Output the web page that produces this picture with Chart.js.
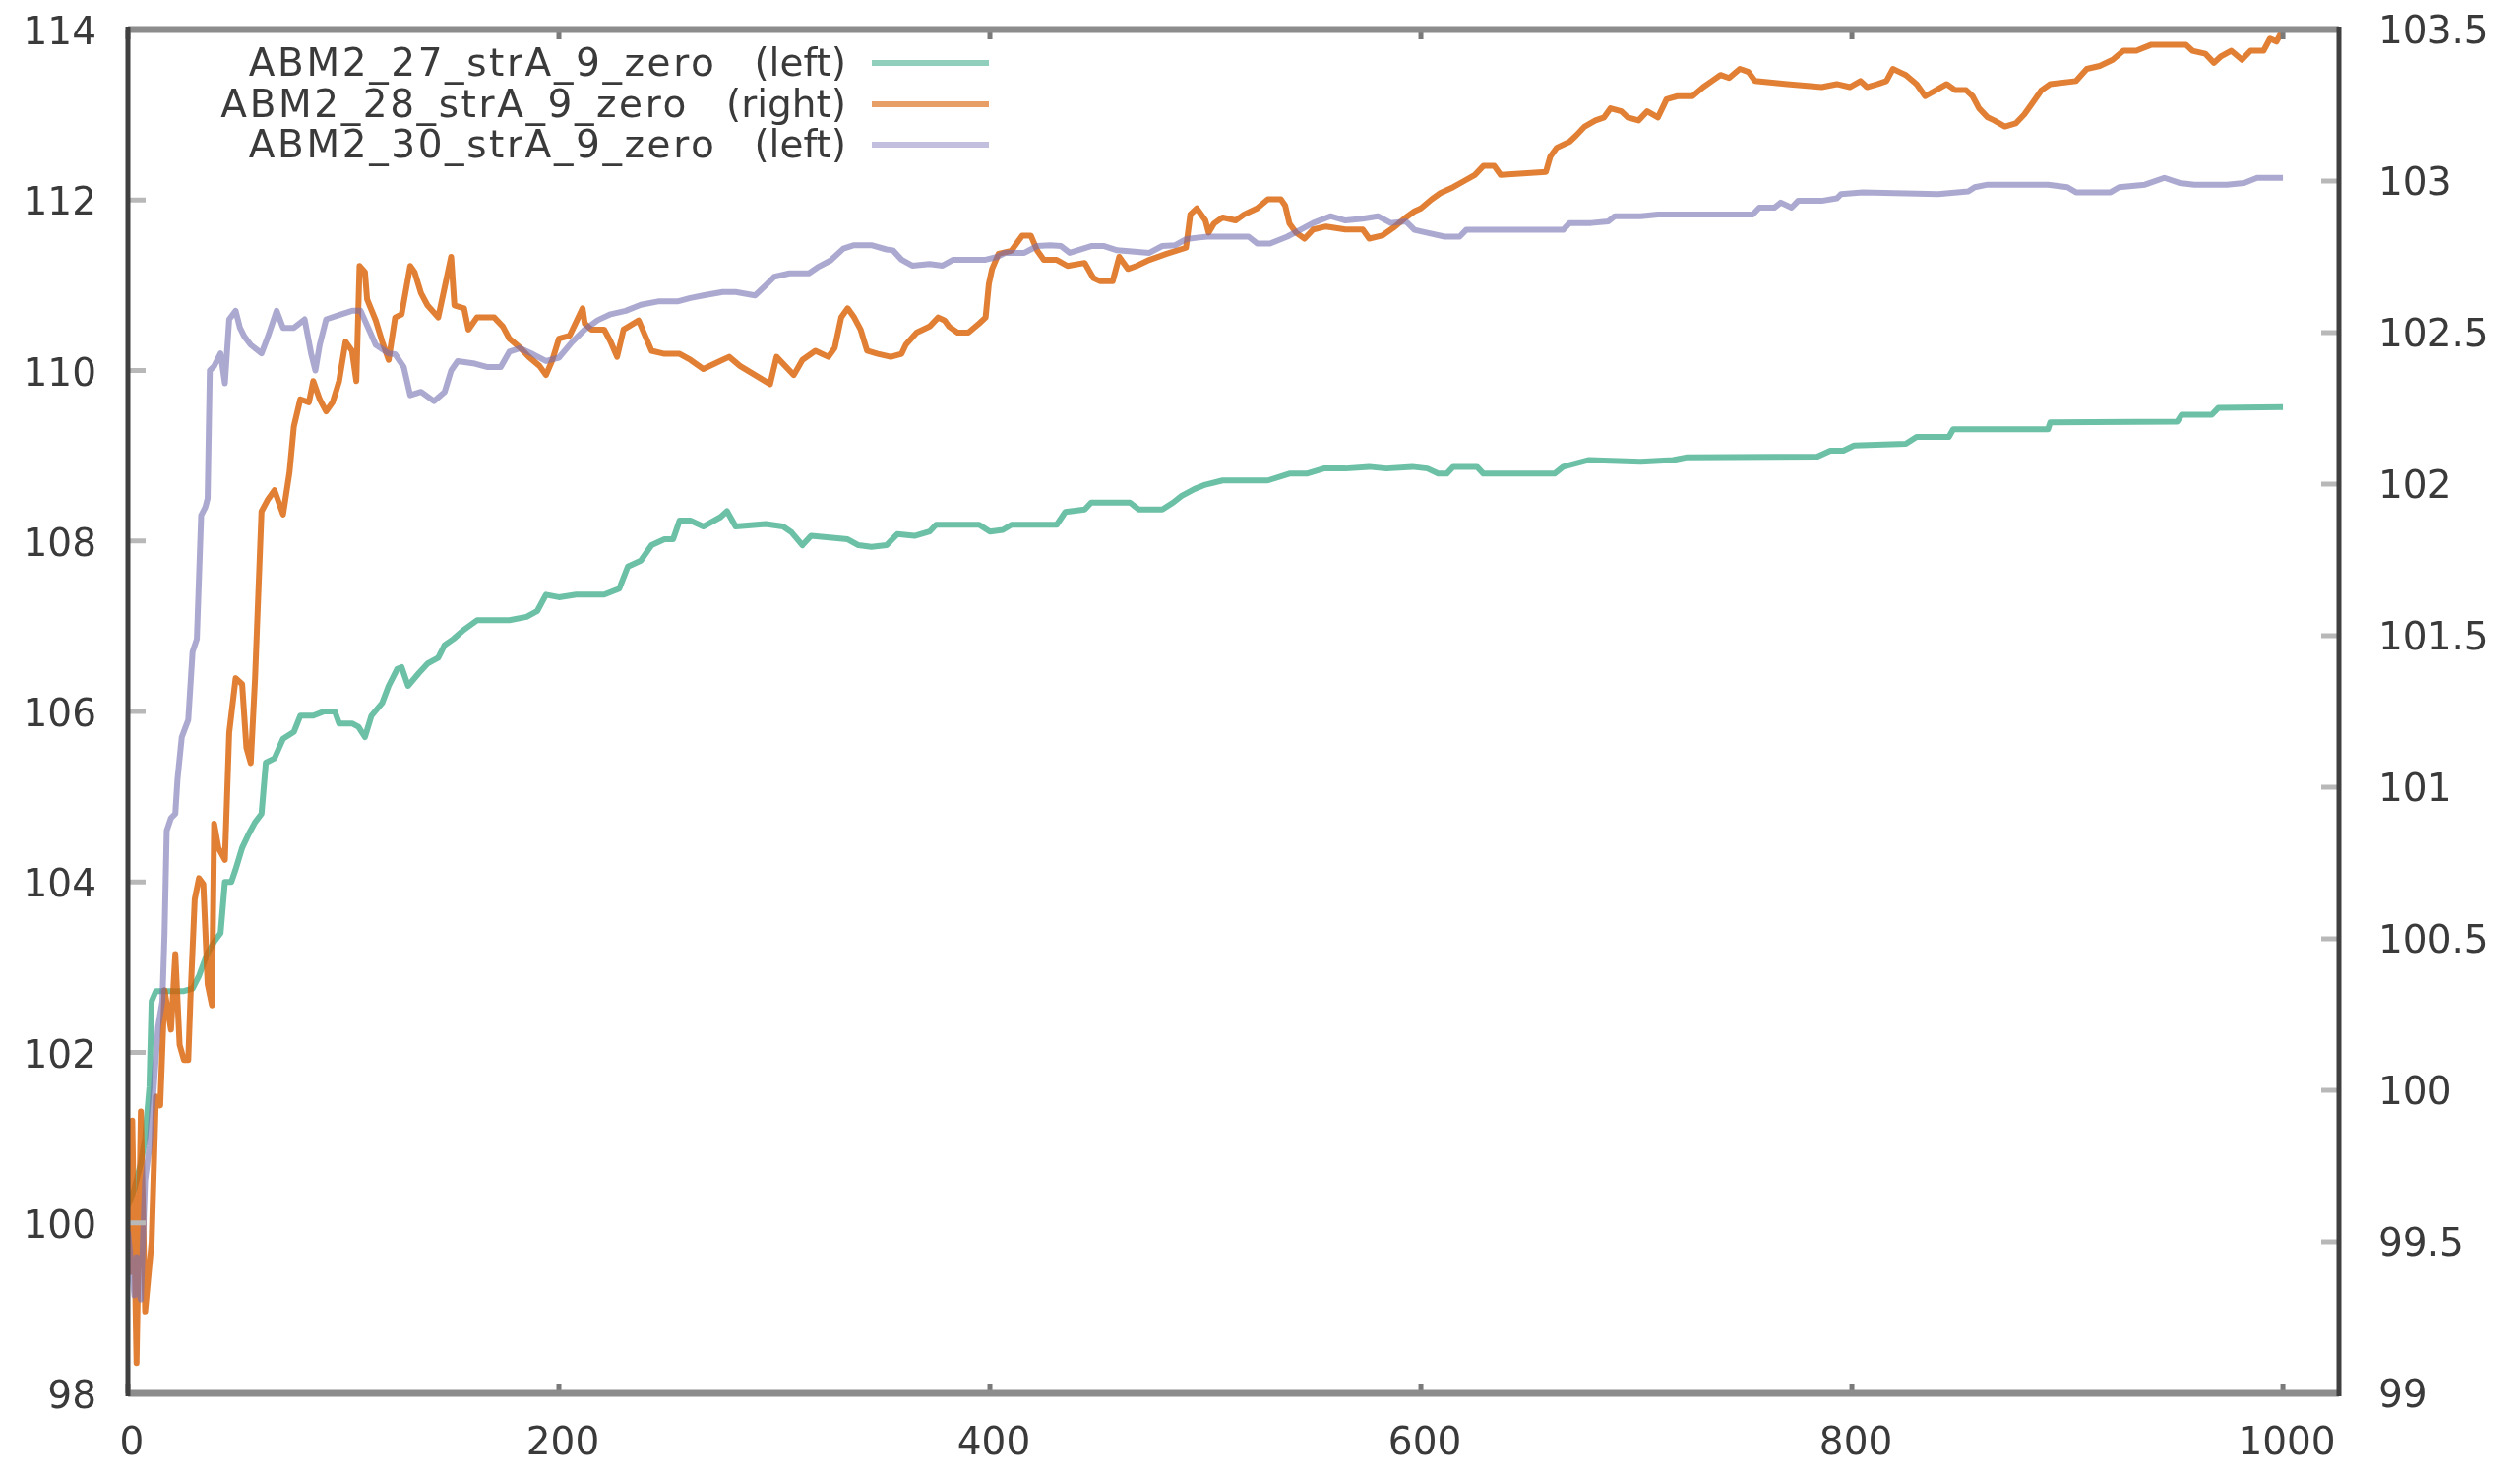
<!DOCTYPE html>
<html>
<head>
<meta charset="utf-8">
<script src="https://cdn.jsdelivr.net/npm/chart.js@4.4.1/dist/chart.umd.min.js"></script>
<style>
html, body { margin: 0; padding: 0; background: #fff; }
#wrap { width: 2561px; height: 1504px; }
</style>
</head>
<body>
<div id="wrap"><canvas id="chart" width="2561" height="1504"></canvas></div>
<script>
// series values, [x, y]
const green = [[0,100.2],[3,100.4],[6,100.7],[8,101.0],[10,101.6],[11,102.6],[13,102.72],[19,102.72],[26,102.72],[30,102.75],[33,102.9],[37,103.17],[40,103.3],[43,103.4],[45,104.0],[48,104.0],[50,104.15],[53,104.4],[56,104.56],[59,104.7],[62,104.8],[64,105.4],[68,105.45],[72,105.68],[77,105.76],[80,105.95],[86,105.95],[91,106.0],[96,106.0],[98,105.86],[104,105.86],[107,105.82],[110,105.7],[113,105.95],[118,106.1],[121,106.3],[125,106.5],[127,106.52],[130,106.3],[135,106.45],[139,106.56],[144,106.63],[147,106.78],[151,106.85],[156,106.96],[162,107.07],[177,107.07],[185,107.11],[190,107.18],[194,107.37],[200,107.34],[208,107.37],[221,107.37],[228,107.44],[232,107.7],[238,107.77],[243,107.95],[249,108.02],[253,108.02],[256,108.24],[261,108.24],[267,108.17],[275,108.28],[278,108.35],[282,108.17],[296,108.2],[304,108.17],[308,108.1],[313,107.95],[317,108.06],[334,108.02],[339,107.95],[345,107.93],[352,107.95],[357,108.08],[365,108.06],[372,108.11],[375,108.19],[395,108.19],[400,108.11],[406,108.13],[410,108.19],[431,108.19],[435,108.34],[444,108.37],[447,108.45],[465,108.45],[469,108.37],[480,108.37],[485,108.45],[489,108.53],[495,108.61],[500,108.66],[508,108.71],[529,108.71],[539,108.79],[547,108.79],[555,108.85],[565,108.85],[576,108.87],[584,108.85],[596,108.87],[603,108.85],[608,108.79],[612,108.79],[615,108.87],[626,108.87],[629,108.79],[662,108.79],[666,108.87],[678,108.95],[702,108.93],[717,108.95],[723,108.98],[784,108.99],[790,109.06],[796,109.06],[801,109.12],[825,109.14],[830,109.22],[845,109.22],[847,109.31],[891,109.31],[892,109.39],[951,109.4],[953,109.48],[967,109.48],[970,109.56],[1000,109.57]];

const orange = [[0,99.8],[1,99.4],[2,99.9],[4,99.1],[5,99.5],[6,99.93],[8,99.27],[11,99.5],[13,99.98],[15,99.95],[17,100.33],[20,100.2],[22,100.45],[24,100.15],[26,100.1],[28,100.1],[29,100.3],[31,100.63],[33,100.7],[35,100.68],[37,100.35],[39,100.28],[40,100.88],[42,100.8],[45,100.76],[47,101.18],[50,101.36],[53,101.34],[55,101.13],[57,101.08],[59,101.36],[62,101.91],[65,101.95],[68,101.98],[72,101.9],[75,102.04],[77,102.19],[80,102.28],[84,102.27],[86,102.34],[89,102.28],[92,102.24],[95,102.27],[98,102.34],[101,102.47],[104,102.44],[106,102.34],[107.5,102.72],[110,102.7],[111,102.61],[115,102.54],[118,102.47],[121,102.41],[124,102.55],[127,102.56],[131,102.72],[133,102.7],[136,102.63],[139,102.59],[144,102.55],[147,102.65],[150,102.75],[151.5,102.59],[156,102.58],[158,102.51],[162,102.55],[170,102.55],[174,102.52],[177,102.48],[182,102.45],[186,102.42],[191,102.39],[194,102.36],[197,102.41],[200,102.48],[205,102.49],[211,102.58],[212,102.53],[215,102.51],[221,102.51],[224,102.47],[227,102.42],[230,102.51],[237,102.54],[240,102.49],[243,102.44],[249,102.43],[256,102.43],[261,102.41],[267,102.38],[273,102.4],[279,102.42],[284,102.39],[291,102.36],[298,102.33],[301,102.42],[305,102.39],[309,102.36],[313,102.41],[319,102.44],[325,102.42],[328,102.45],[331,102.55],[334,102.58],[337,102.55],[340,102.51],[343,102.44],[348,102.43],[354,102.42],[359,102.43],[361,102.46],[366,102.5],[372,102.52],[376,102.55],[379,102.54],[381,102.52],[385,102.5],[390,102.5],[395,102.53],[398,102.55],[399.5,102.66],[401,102.71],[404,102.76],[410,102.77],[415,102.82],[419,102.82],[422,102.77],[425,102.74],[431,102.74],[436,102.72],[444,102.73],[448,102.68],[451,102.67],[457,102.67],[460,102.75],[464,102.71],[468,102.72],[474,102.74],[482,102.76],[491,102.78],[493,102.89],[496,102.91],[500,102.87],[501.5,102.83],[504,102.86],[508,102.88],[514,102.87],[518,102.89],[524,102.91],[529,102.94],[535,102.94],[537,102.92],[539,102.86],[542,102.83],[546,102.81],[550,102.84],[556,102.85],[565,102.84],[573,102.84],[576,102.81],[582,102.82],[588,102.85],[593,102.88],[597,102.9],[600,102.91],[605,102.94],[609,102.96],[615,102.98],[620,103.0],[625,103.02],[629,103.05],[634,103.05],[637,103.02],[658,103.03],[660,103.08],[663,103.11],[669,103.13],[672,103.15],[676,103.18],[681,103.2],[685,103.21],[688,103.24],[693,103.23],[696,103.21],[701,103.2],[705,103.23],[710,103.21],[714,103.27],[719,103.28],[726,103.28],[731,103.31],[735,103.33],[739,103.35],[743,103.34],[748,103.37],[752,103.36],[755,103.33],[770,103.32],[786,103.31],[793,103.32],[799,103.31],[804,103.33],[807,103.31],[812,103.32],[816,103.33],[819,103.37],[822,103.36],[825,103.35],[830,103.32],[834,103.28],[839,103.3],[844,103.32],[848,103.3],[853,103.3],[856,103.28],[859,103.24],[863,103.21],[866,103.2],[871,103.18],[876,103.19],[880,103.22],[884,103.26],[888,103.3],[892,103.32],[904,103.33],[909,103.37],[915,103.38],[921,103.4],[926,103.43],[932,103.43],[939,103.45],[955,103.45],[958,103.43],[964,103.42],[968,103.39],[971,103.41],[976,103.43],[981,103.4],[985,103.43],[991,103.43],[994,103.47],[997,103.46],[1000,103.5]];

const purple = [[0,99.9],[2,99.4],[3,99.15],[4,99.6],[5,99.2],[6,99.1],[8,100.5],[10,100.9],[12,101.6],[14,102.3],[16,102.6],[17,103.4],[18,104.6],[20,104.75],[22,104.8],[23,105.2],[25,105.7],[28,105.9],[30,106.7],[32,106.85],[34,108.3],[36,108.4],[37,108.5],[38,110.0],[40,110.05],[43,110.2],[45,109.85],[47,110.6],[50,110.7],[52,110.5],[54,110.4],[57,110.3],[62,110.2],[65,110.4],[69,110.7],[72,110.5],[77,110.5],[82,110.6],[85,110.2],[87,110.0],[89,110.3],[92,110.6],[98,110.65],[104,110.7],[108,110.7],[115,110.3],[121,110.2],[124,110.19],[128,110.04],[131,109.71],[136,109.75],[142,109.64],[147,109.75],[150,110.0],[153,110.11],[161,110.08],[167,110.04],[173,110.04],[177,110.22],[182,110.26],[188,110.19],[194,110.11],[200,110.15],[206,110.33],[212,110.48],[218,110.59],[224,110.66],[231,110.7],[238,110.77],[246,110.81],[255,110.81],[261,110.85],[267,110.88],[276,110.92],[282,110.92],[291,110.88],[296,111.0],[300,111.1],[307,111.14],[316,111.14],[320,111.21],[326,111.29],[332,111.43],[337,111.47],[345,111.47],[352,111.42],[355,111.41],[359,111.3],[364,111.23],[372,111.25],[378,111.23],[383,111.3],[398,111.3],[403,111.33],[407,111.38],[416,111.38],[422,111.46],[428,111.47],[433,111.46],[437,111.38],[447,111.46],[453,111.46],[459,111.41],[474,111.38],[480,111.46],[486,111.47],[491,111.54],[497,111.56],[501,111.57],[520,111.57],[524,111.49],[530,111.49],[538,111.57],[544,111.65],[550,111.73],[558,111.81],[565,111.76],[573,111.78],[580,111.81],[586,111.73],[593,111.75],[597,111.65],[602,111.62],[611,111.57],[618,111.57],[621,111.65],[666,111.65],[669,111.73],[679,111.73],[687,111.75],[690,111.81],[702,111.81],[710,111.83],[754,111.83],[757,111.91],[764,111.91],[767,111.97],[772,111.91],[775,111.99],[786,111.99],[793,112.02],[795,112.07],[805,112.09],[840,112.07],[854,112.1],[857,112.15],[863,112.18],[891,112.18],[900,112.15],[904,112.09],[920,112.09],[924,112.15],[936,112.18],[945,112.26],[952,112.2],[959,112.18],[974,112.18],[982,112.2],[988,112.26],[1000,112.26]];

const seriesNames = ['ABM2_27_strA_9_zero', 'ABM2_28_strA_9_zero', 'ABM2_30_strA_9_zero'];
const seriesSides = ['(left)', '(right)', '(left)'];
const seriesColors = ['rgba(27,158,119,0.65)', 'rgba(217,95,2,0.8)', 'rgba(117,112,179,0.6)'];

const xTicks = [0, 200, 400, 600, 800, 1000];
const leftTicks = [98, 100, 102, 104, 106, 108, 110, 112, 114];
const rightTicks = [99, 99.5, 100, 100.5, 101, 101.5, 102, 102.5, 103, 103.5];

const FONT = { family: 'DejaVu Sans', size: 39 };
const TEXT = '#3a3a3a';

function toPoints(arr) {
    return arr.map(p => ({ x: p[0], y: p[1] }));
}

// no extra room for overflowing labels, the frame is placed by hand
function noPad(s) {
    s.paddingLeft = 0;
    s.paddingRight = 0;
    s.paddingTop = 0;
    s.paddingBottom = 0;
}

// border + inward tic marks, gnuplot style
const framePlugin = {
    id: 'frame',
    afterDatasetsDraw(chart) {
        const { ctx, chartArea: a, scales } = chart;
        ctx.save();
        const seg = (x1, y1, x2, y2) => { ctx.beginPath(); ctx.moveTo(x1, y1); ctx.lineTo(x2, y2); ctx.stroke(); };

        ctx.lineWidth = 5;
        ctx.strokeStyle = '#b8b8b8';
        scales.y.ticks.forEach(t => { const y = scales.y.getPixelForValue(t.value); seg(a.left, y, a.left + 18, y); });
        scales.y2.ticks.forEach(t => { const y = scales.y2.getPixelForValue(t.value); seg(a.right - 18, y, a.right, y); });
        ctx.strokeStyle = '#7a7a7a';
        scales.x.ticks.forEach(t => {
            const x = scales.x.getPixelForValue(t.value);
            seg(x, a.bottom, x, a.bottom - 10);
            seg(x, a.top, x, a.top + 10);
        });

        ctx.lineWidth = 7;
        ctx.strokeStyle = '#8c8c8c';
        seg(a.left, a.top, a.right, a.top);
        seg(a.left, a.bottom, a.right, a.bottom);
        ctx.lineWidth = 5;
        ctx.strokeStyle = '#404040';
        seg(a.left, a.top - 3, a.left, a.bottom + 3);
        seg(a.right, a.top - 3, a.right, a.bottom + 3);
        ctx.restore();
    }
};

// legend: right-aligned text, then a line sample
const legendPlugin = {
    id: 'keyBox',
    afterDraw(chart) {
        const ctx = chart.ctx;
        const rows = [64, 106, 147];
        ctx.save();
        ctx.font = FONT.size + 'px "' + FONT.family + '"';
        ctx.fillStyle = TEXT;
        ctx.textBaseline = 'middle';
        ctx.textAlign = 'right';
        chart.data.datasets.forEach((ds, i) => {
            const y = rows[i] + 3;
            ctx.letterSpacing = '0px';
            ctx.fillText(seriesSides[i], 860, y);
            const w = ctx.measureText(seriesSides[i]).width;
            ctx.letterSpacing = '2.6px';
            ctx.fillText(seriesNames[i], 860 - w - 38, y);
            ctx.strokeStyle = ds.borderColor;
            ctx.globalAlpha = 0.75;
            ctx.lineWidth = 6;
            ctx.beginPath();
            ctx.moveTo(886, rows[i]);
            ctx.lineTo(1005, rows[i]);
            ctx.stroke();
            ctx.globalAlpha = 1;
        });
        ctx.restore();
    }
};

const ctx = document.getElementById('chart');

new Chart(ctx, {
    type: 'line',
    data: {
        datasets: [
            {
                label: seriesNames[0],
                data: toPoints(green),
                yAxisID: 'y',
                borderColor: seriesColors[0],
                order: 3
            },
            {
                label: seriesNames[1],
                data: toPoints(orange),
                yAxisID: 'y2',
                borderColor: seriesColors[1],
                order: 2
            },
            {
                label: seriesNames[2],
                data: toPoints(purple),
                yAxisID: 'y',
                borderColor: seriesColors[2],
                order: 1
            }
        ]
    },
    options: {
        responsive: false,
        animation: false,
        devicePixelRatio: 1,
        layout: { padding: { top: 30, left: 0, right: 0, bottom: 0 } },
        elements: {
            line: { borderWidth: 6, tension: 0, borderJoinStyle: 'round', fill: false },
            point: { radius: 0, hoverRadius: 0 }
        },
        plugins: {
            legend: { display: false },
            tooltip: { enabled: false }
        },
        scales: {
            x: {
                type: 'linear',
                position: 'bottom',
                min: 0,
                max: 1026,
                grid: { display: false, drawTicks: false },
                border: { display: false },
                ticks: { font: FONT, color: TEXT, padding: 28, labelOffset: 4, maxRotation: 0, callback: v => String(v) },
                afterBuildTicks: s => { s.ticks = xTicks.map(v => ({ value: v })); },
                afterFit: s => { s.height = 88; noPad(s); }
            },
            y: {
                type: 'linear',
                position: 'left',
                min: 98,
                max: 114,
                grid: { display: false, drawTicks: false },
                border: { display: false },
                ticks: { font: FONT, color: TEXT, padding: 32, labelOffset: 5, callback: v => String(v) },
                afterBuildTicks: s => { s.ticks = leftTicks.map(v => ({ value: v })); },
                afterFit: s => { s.width = 130; noPad(s); }
            },
            y2: {
                type: 'linear',
                position: 'right',
                min: 99,
                max: 103.5,
                grid: { display: false, drawTicks: false },
                border: { display: false },
                ticks: { font: FONT, color: TEXT, padding: 40, labelOffset: 4, callback: v => String(v) },
                afterBuildTicks: s => { s.ticks = rightTicks.map(v => ({ value: v })); },
                afterFit: s => { s.width = 184; noPad(s); }
            }
        }
    },
    plugins: [framePlugin, legendPlugin]
});
</script>
</body>
</html>
